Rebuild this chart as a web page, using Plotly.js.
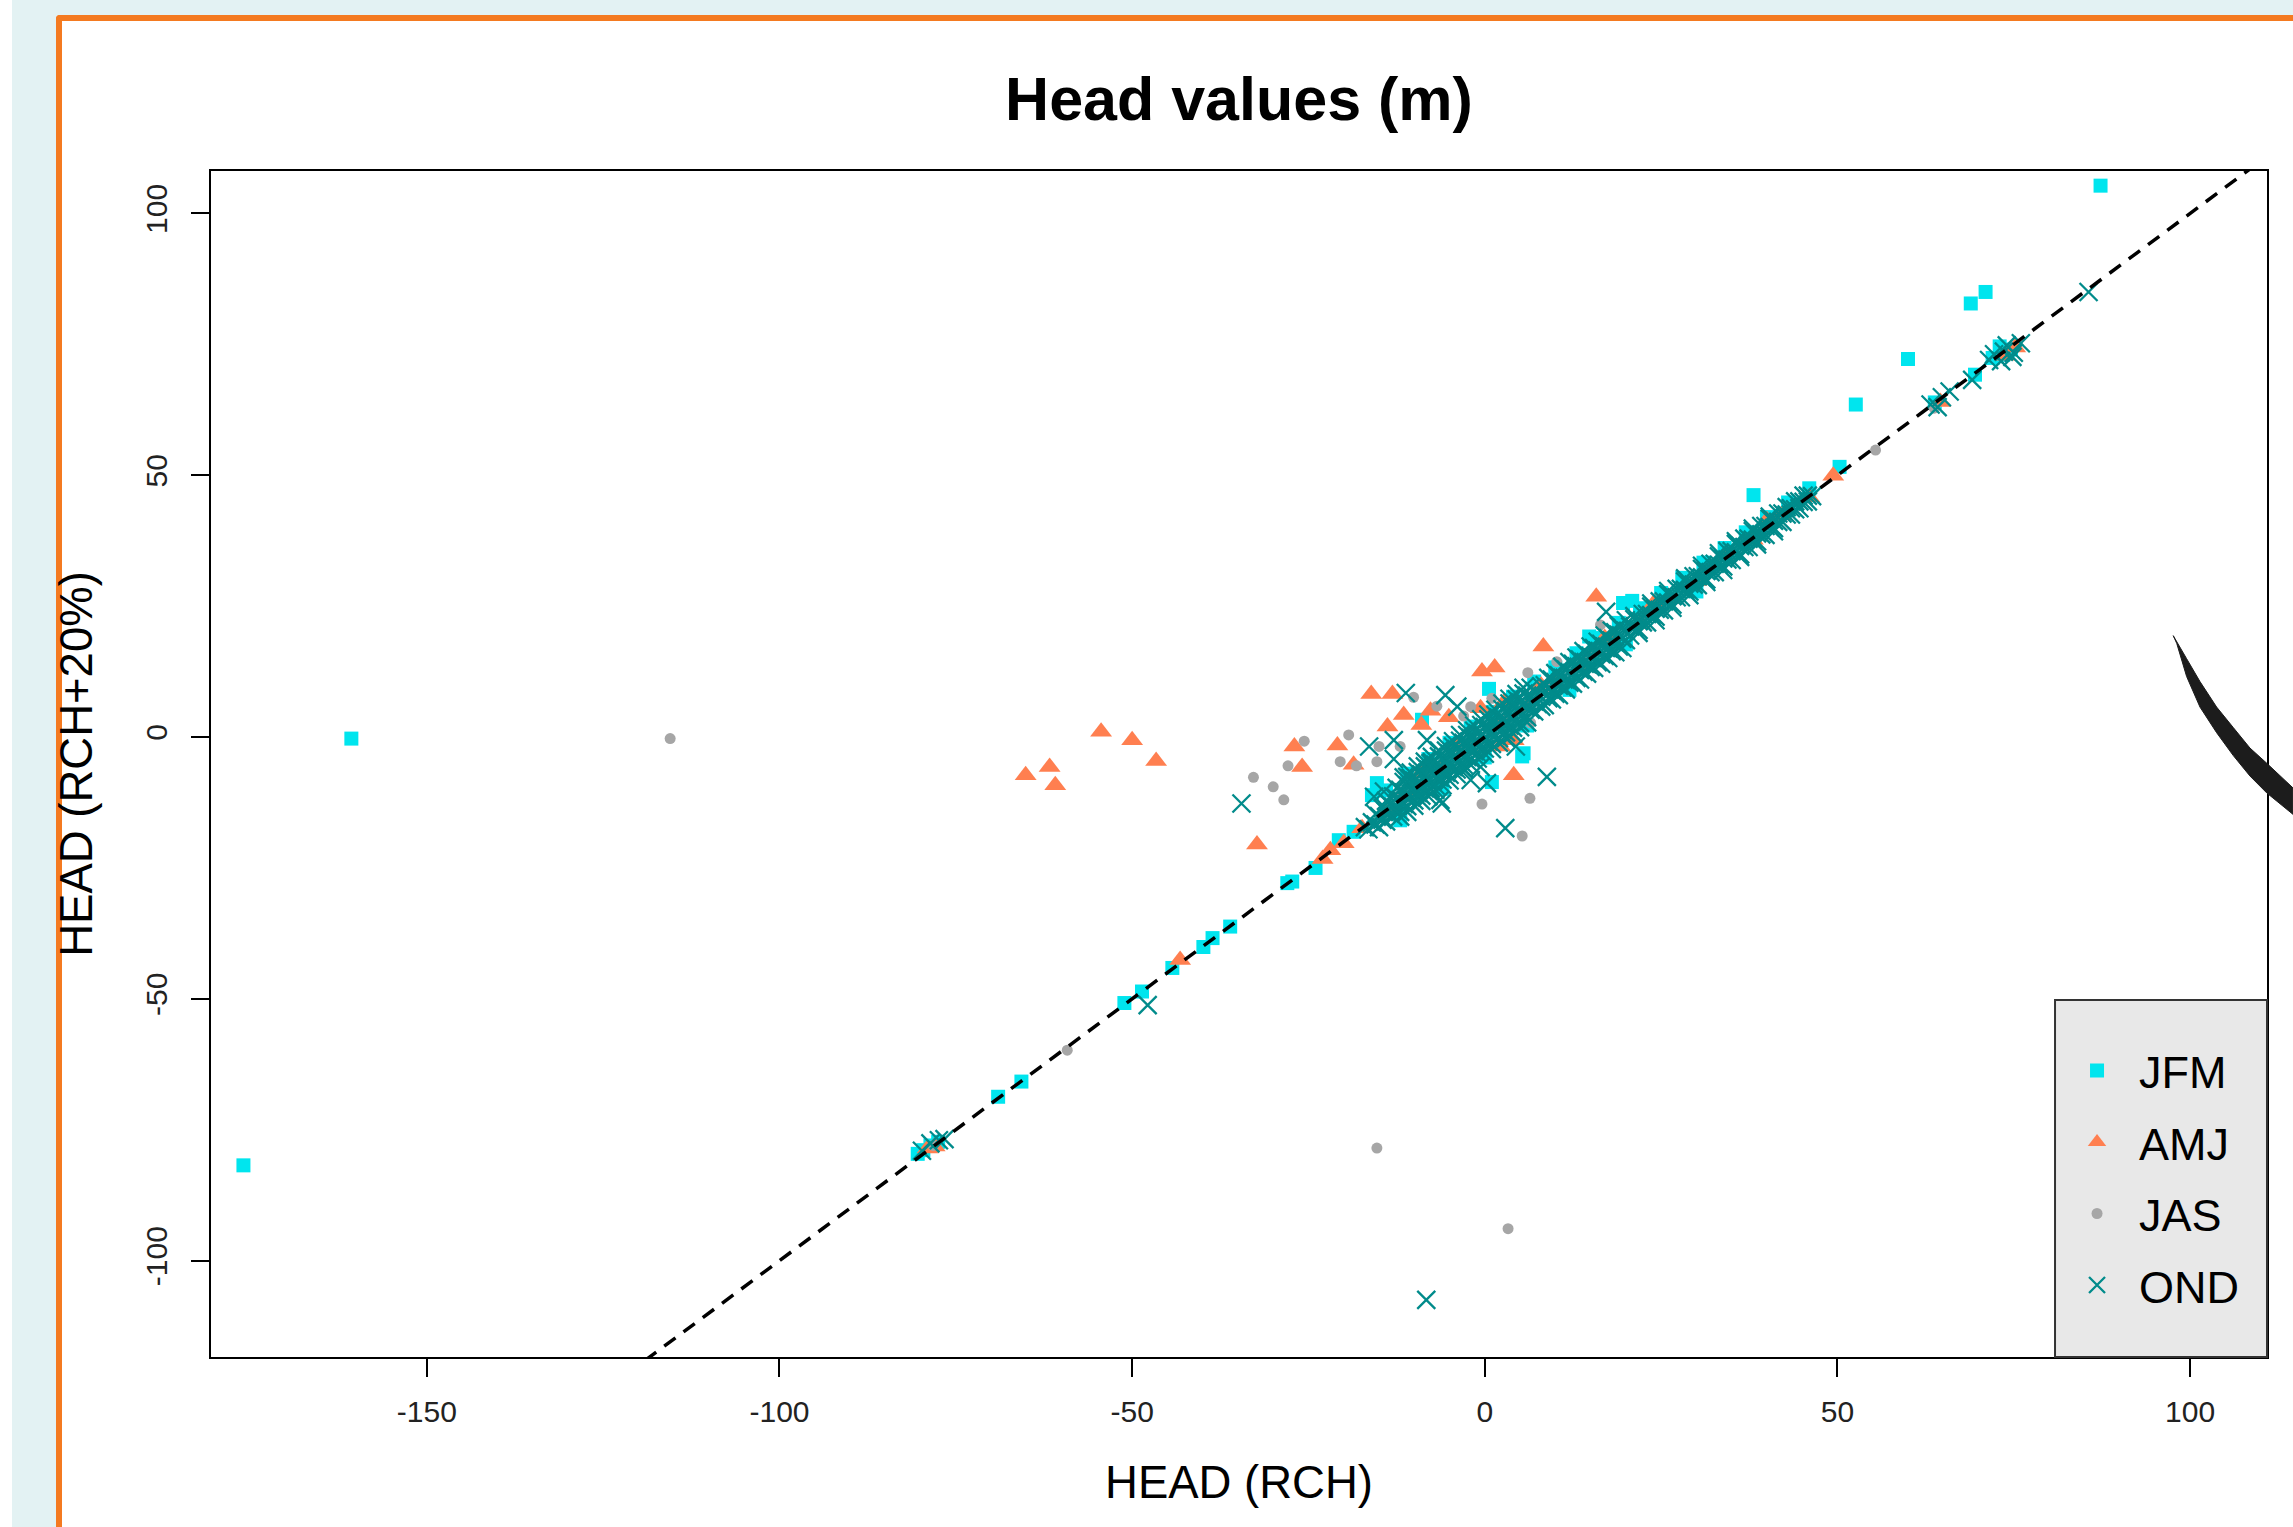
<!DOCTYPE html>
<html><head><meta charset="utf-8">
<script src="https://cdn.plot.ly/plotly-3.0.1.min.js"></script>
<style>
html,body{margin:0;padding:0;width:2293px;height:1527px;overflow:hidden;background:#fff;}
#bg{position:absolute;left:12px;top:0;width:2281px;height:1527px;background:#e3f2f3;}
#panel{position:absolute;left:56px;top:15px;width:2300px;height:1600px;background:#fff;border-left:6px solid #f47a20;border-top:6px solid #f47a20;border-top-left-radius:4px;}
#chart{position:absolute;left:0;top:0;width:2293px;height:1527px;}
</style></head><body>
<div id="bg"></div><div id="panel"></div><div id="chart"></div>
<script>
const seasons = ['JFM','AMJ','JAS','OND'];
const xTicks = [-150,-100,-50,0,50,100];
const yTicks = [-100,-50,0,50,100];
const refLine = [-130,120];

const jfmX = [-160.7,-176.0,87.3,68.9,71.0,60.0,52.6,50.3,38.1,20.9,19.6,14.8,0.6,5.3,1.0,-8.9,5.5,-15.3,-12.0,-16.0,
 69.5,-24.0,-20.7,-18.6,-28.0,-27.3,-36.1,-38.6,-39.9,-44.3,-48.6,-51.1,-65.7,-69.0,-80.4,-79.6,-78.6,-77.5,
 72.0,73.5,74.6,73.0,63.8,
 -14,-11,-8,-5,-2,1,4,7,10,13,16,19,22,25,28,31,34,37,40,43,46,
 -12,-6,0,6,12,20,30];
const jfmY = [-0.3,-81.8,105.3,82.8,85.0,72.2,63.5,51.6,46.2,26.0,25.6,19.2,9.2,-3.7,-8.6,3.3,-3.1,-8.8,-14.2,-11.1,
 69.2,-25.0,-19.7,-18.1,-27.9,-27.6,-36.2,-38.4,-40.1,-44.1,-48.6,-50.8,-65.8,-68.7,-79.6,-78.9,-78.0,-77.3,
 72.4,73.0,74.0,74.6,63.9,
 -10.2,-7.0,-4.2,-1.1,2.0,4.8,7.7,10.6,13.3,16.0,18.9,21.8,24.6,27.5,30.4,33.3,36.1,39.1,42.0,44.8,47.5,
 -15.9,-9.9,-3.9,2.2,9.0,17.7,27.8];

const amjX = [-65.1,-61.7,-60.9,-54.4,-50.0,-46.6,-32.3,-27.0,-25.9,-20.9,-18.6,-16.1,-13.1,-13.8,-11.5,-9.0,-7.7,-5.1,-0.6,2.7,-0.4,1.4,2.2,4.1,4.1,8.3,15.8,49.4,
 -43.2,-21.9,-20.0,-17.4,-23.0,-79.0,-78.0,73.8,75.2,64.6,
 -14,-10,-6,-2,2,6,10,14,18,22,26,30,34,38,42,46,
 -9,-4,8,17,24,40];
const amjY = [-7.3,-5.7,-9.2,1.0,-0.6,-4.6,-20.5,-1.8,-5.7,-1.6,-5.3,8.2,8.2,2.0,4.2,2.3,5.0,3.8,5.5,6.6,12.5,13.3,-1.8,-0.6,-7.3,17.3,26.8,49.9,
 -42.6,-21.6,-20.3,-17.4,-23.3,-78.6,-78.2,72.8,74.4,64.0,
 -14.3,-10.6,-5.6,-2.4,2.5,5.7,10.4,13.8,18.3,21.6,26.3,29.8,34.4,37.7,42.3,45.8,
 -6.8,-1.9,9.8,18.9,25.6,41.4];

const jasX = [-115.5,-15.3,3.3,-32.8,-30.0,-28.5,-27.9,-25.6,-20.5,-19.3,-18.2,-15.0,-15.3,-12.0,-10.1,-6.8,-3.0,-2.0,1.0,6.1,6.5,6.4,-0.4,5.3,10.2,55.4,63.7,16.4,-59.2,-78.2,
 -12,-7,-3,3,9,15,23,31,39,45];
const jasY = [-0.3,-78.5,-93.9,-7.7,-9.5,-12.0,-5.5,-0.8,-4.7,0.4,-5.5,-1.8,-4.7,-1.8,7.6,5.9,4.0,5.8,7.4,12.3,2.7,-11.7,-12.8,-18.9,14.4,54.8,62.8,21.4,-59.8,-78.0,
 -11.2,-6.1,-2.0,3.8,9.6,15.5,23.4,31.3,38.8,45.2];

const ondX = [-8.3,-34.5,-16.4,-12.9,-11.2,-5.6,-3.9,-12.9,8.8,2.9,4.4,-0.6,0.3,-6.3,-7.7,-14.3,-15.7,-6.1,-47.8,85.6,65.9,69.1,17.2,-8.2,-3.0,-2.0,-7.7,-11.0,
 72.2,73.2,74.0,75.0,71.5,76.0,73.6,74.8,63.2,64.8,64.2,-78.6,-77.4,-76.6,-79.8,
 -12,-11,-10,-9,-8,-7,-6,-5,-4,-3,-2,-1,0,1,2,3,4,5,6,
 -15,-14,-13,-12,-11,-10,-9,-8,-7,-6,-5,-4,-3,-2,-1,0,1,2,3,4,5,6,7,8,
 -16.5,-15.5,-14.5,-13.5,-12.5,-11.5,-10.5,-9.5,-8.5,-7.5,-6.5,-5.5,-4.5,-3.5,-2.5,-1.5,-0.5,0.5,1.5,2.5,3.5,4.5,5.5,6.5,7.5,
 -17,-16,-15,-14,-13,-12,-11,-10,-9,-8,-7,-6,-5,-4,-3,-2,-1,0,1,2,3,4,5,6,7,8,
 -15.5,-14.5,-13.5,-12.5,-11.5,-10.5,-9.5,-8.5,-7.5,-6.5,-5.5,-4.5,-3.5,-2.5,-1.5,-0.5,0.5,1.5,2.5,3.5,4.5,5.5,6.5,7.5,
 -14,-13,-12,-11,-10,-9,-8,-7,-6,-5,-4,-3,-2,-1,0,1,2,3,4,5,6,7,8,
 -12.5,-11.5,-10.5,-9.5,-8.5,-7.5,-6.5,-5.5,-4.5,-3.5,-2.5,-1.5,-0.5,0.5,1.5,2.5,3.5,4.5,5.5,6.5,
 -11.5,-10.5,-9.5,-8.5,-7.5,-6.5,-5.5,-4.5,-3.5,-2.5,-1.5,-0.5,0.5,1.5,2.5,3.5,4.5,5.5,
 8.5,9.5,10.5,11.5,12.5,13.5,14.5,15.5,16.5,17.5,18.5,19.5,
 9,10,11,12,13,14,15,16,17,18,19,20,
 9.5,10.5,11.5,12.5,13.5,14.5,15.5,16.5,17.5,18.5,19.5,
 9,10,11,12,13,14,15,16,17,18,19,20,
 8.5,9.5,10.5,11.5,12.5,13.5,14.5,15.5,16.5,17.5,18.5,19.5,
 9,10,11,12,13,14,15,16,17,18,19,20,
 21.8,24.2,26.6,29.0,31.4,33.8,36.2,38.6,41.0,
 20.6,21.8,23.0,24.2,25.4,26.6,27.8,29.0,30.2,31.4,32.6,33.8,35.0,36.2,37.4,38.6,39.8,41.0,42.2,43.4,44.6,45.8,
 21.2,22.4,23.6,24.8,26.0,27.2,28.4,29.6,30.8,32.0,33.2,34.4,35.6,36.8,38.0,39.2,40.4,41.6,42.8,44.0,45.2,46.4,
 20.6,21.8,23.0,24.2,25.4,26.6,27.8,29.0,30.2,31.4,32.6,33.8,35.0,36.2,37.4,38.6,39.8,41.0,42.2,43.4,44.6,45.8,
 21.2,22.4,23.6,24.8,26.0,27.2,28.4,29.6,30.8,32.0,33.2,34.4,35.6,36.8,38.0,39.2,40.4,41.6,42.8,44.0,45.2,
 21.2,23.6,26.0,28.4,30.8,33.2,35.6,38.0,40.4];
const ondY = [-107.5,-12.7,-1.8,-0.6,8.4,8.0,5.8,-4.2,-7.6,-17.4,-1.8,-5.7,-8.8,-12.0,-9.8,-10.4,-11.4,-12.7,-51.2,85.0,66.0,68.2,23.9,-0.6,-6.0,-8.2,-5.0,-7.6,
 73.1,71.8,74.8,73.4,72.0,75.2,73.6,72.6,63.5,64.9,63.0,-77.6,-77.0,-76.8,-79.0,
 -15.2,-14.3,-13.1,-12.2,-11.3,-10.1,-9.2,-8.3,-7.1,-6.2,-5.3,-4.1,-3.2,-2.3,-1.1,-0.2,0.7,1.9,2.8,
 -17.2,-16.1,-15.2,-14.3,-13.2,-12.1,-11.2,-10.3,-9.2,-8.1,-7.2,-6.2,-5.3,-4.2,-3.1,-2.2,-1.3,-0.2,0.9,1.8,2.7,3.8,4.9,5.8,
 -17.6,-16.7,-15.8,-14.6,-13.7,-12.8,-11.6,-10.7,-9.8,-8.6,-7.7,-6.8,-5.7,-4.6,-3.8,-2.7,-1.6,-0.8,0.3,1.4,2.2,3.3,4.4,5.2,6.3,
 -17.2,-16.3,-15.1,-14.2,-13.3,-12.1,-11.2,-10.3,-9.1,-8.2,-7.3,-6.1,-5.2,-4.3,-3.1,-2.2,-1.3,-0.1,0.8,1.7,2.9,3.8,4.7,5.9,6.8,7.7,
 -14.7,-13.6,-12.8,-11.7,-10.6,-9.8,-8.7,-7.6,-6.8,-5.7,-4.6,-3.8,-2.7,-1.6,-0.8,0.3,1.4,2.2,3.3,4.4,5.2,6.3,7.4,8.2,
 -12.2,-11.3,-10.1,-9.2,-8.3,-7.1,-6.2,-5.3,-4.1,-3.2,-2.3,-1.1,-0.2,0.7,1.9,2.8,3.7,4.9,5.8,6.7,7.9,8.8,9.7,
 -9.7,-8.6,-7.8,-6.7,-5.6,-4.8,-3.7,-2.6,-1.8,-0.7,0.4,1.2,2.3,3.4,4.2,5.3,6.4,7.2,8.3,9.4,
 -7.7,-6.8,-5.6,-4.7,-3.8,-2.6,-1.7,-0.8,0.4,1.3,2.2,3.4,4.3,5.2,6.4,7.3,8.2,9.4,
 6.1,7.2,8.0,9.1,10.2,11.0,12.1,13.2,14.0,15.1,16.2,17.0,
 7.4,8.3,9.5,10.4,11.3,12.5,13.4,14.3,15.5,16.4,17.3,18.5,
 8.9,9.8,10.9,12.0,12.8,13.9,15.0,15.8,16.9,18.0,18.8,
 9.4,10.5,11.3,12.4,13.5,14.3,15.4,16.5,17.3,18.4,19.5,20.3,
 9.9,11.0,11.8,12.9,14.0,14.8,15.9,17.0,17.8,18.9,20.0,20.8,
 11.3,12.2,13.4,14.3,15.2,16.4,17.3,18.2,19.4,20.3,21.2,22.3,
 19.9,22.3,24.7,27.1,29.6,31.9,34.4,36.8,39.3,
 19.4,20.5,21.9,23.0,24.2,25.3,26.7,27.8,29.0,30.1,31.5,32.6,33.8,34.9,36.3,37.4,38.6,39.9,41.1,42.5,43.7,45.0,
 20.9,21.9,23.3,24.3,25.7,26.7,28.1,29.1,30.5,31.5,32.9,33.9,35.3,36.3,37.7,38.7,40.1,41.1,42.5,43.5,44.9,46.0,
 21.1,22.1,23.5,24.5,25.9,26.9,28.3,29.3,30.7,31.7,33.1,34.1,35.5,36.5,37.9,38.9,40.3,41.3,42.7,43.7,45.0,46.1,
 22.5,23.5,24.9,25.9,27.3,28.3,29.7,30.7,32.1,33.1,34.5,35.5,36.9,37.9,39.3,40.3,41.7,42.7,43.9,45.0,46.1,
 23.1,25.5,27.9,30.3,32.7,35.1,37.4,39.8,42.1];

const FONT = 'Liberation Sans, Arial, sans-serif';
const traces = [
 {type:'scatter', mode:'markers', name:seasons[0], x:jfmX, y:jfmY, legendgroup:'g1',
  marker:{symbol:'square', size:14, color:'#00E5EE', line:{width:0}}},
 {type:'scatter', mode:'markers', name:seasons[1], x:amjX, y:amjY, legendgroup:'g2',
  marker:{symbol:'triangle-up', size:19, color:'#FF7F50', line:{width:0}}},
 {type:'scatter', mode:'markers', name:seasons[2], x:jasX, y:jasY, legendgroup:'g3',
  marker:{symbol:'circle', size:11, color:'#A6A6A6', line:{width:0}}},
 {type:'scatter', mode:'markers', name:seasons[3], x:ondX, y:ondY, legendgroup:'g4',
  marker:{symbol:'x-thin', size:18, color:'#008B8B', line:{color:'#008B8B', width:2.3}}},
 {type:'scatter', mode:'lines', x:refLine, y:refLine, showlegend:false, hoverinfo:'skip',
  line:{color:'#000', width:3.5, dash:'14px,10px'}}
];

const axisCommon = {
 ticks:'outside', ticklen:18, tickwidth:2, tickcolor:'#000',
 showline:true, mirror:true, linecolor:'#000', linewidth:2,
 showgrid:false, zeroline:false, tickfont:{size:30, color:'#222', family:FONT}
};

const layout = {
 width:2293, height:1527,
 margin:{l:211, r:26, t:171, b:170, pad:0},
 paper_bgcolor:'rgba(0,0,0,0)', plot_bgcolor:'#ffffff',
 font:{family:FONT, color:'#000'},
 title:{text:'<b>Head values (m)</b>', font:{size:61, color:'#000', family:FONT},
  x:0.5, xref:'paper', xanchor:'center', y:1-99/1527, yref:'container', yanchor:'middle'},
 xaxis:Object.assign({}, axisCommon, {range:[-180.6,110.9], tickvals:xTicks, ticktext:xTicks.map(String), ticklabelstandoff:9,
  title:{text:'HEAD (RCH)', font:{size:45.5, color:'#000', family:FONT}, standoff:39}}),
 yaxis:Object.assign({}, axisCommon, {range:[-118.4,108.1], tickvals:yTicks, ticktext:yTicks.map(String), tickangle:-90, ticklabelstandoff:12,
  title:{text:'HEAD (RCH+20%)', font:{size:45.5, color:'#000', family:FONT}, standoff:33}}),
 showlegend:true,
 legend:{x:0.8969, y:0.2717, xanchor:'left', yanchor:'top', bgcolor:'rgba(0,0,0,0)', borderwidth:0,
  font:{size:45, color:'#000', family:FONT}, tracegroupgap:10, itemwidth:74},
 shapes:[
  {type:'rect', xref:'paper', yref:'paper', x0:0.8969, x1:1, y0:0, y1:0.301, layer:'above',
   fillcolor:'#e8e8e8', line:{color:'#333', width:2}},
  {type:'path', xref:'paper', yref:'paper', layer:'above', fillcolor:'#1c1c1c', line:{color:'#1c1c1c', width:1},
   path:'M0.9544,0.6082 L0.9609,0.5888 L0.9674,0.5695 L0.9755,0.5480 L0.9836,0.5307 L0.9917,0.5135 L0.9999,0.5006 L1.0126,0.4799 L1.0126,0.4576 L0.9999,0.4756 L0.9917,0.4899 L0.9836,0.5071 L0.9755,0.5264 L0.9674,0.5480 L0.9609,0.5738 L0.9561,0.6017 Z'}
 ]
};

Plotly.newPlot('chart', traces, layout, {displayModeBar:false, staticPlot:true});
</script></body></html>
